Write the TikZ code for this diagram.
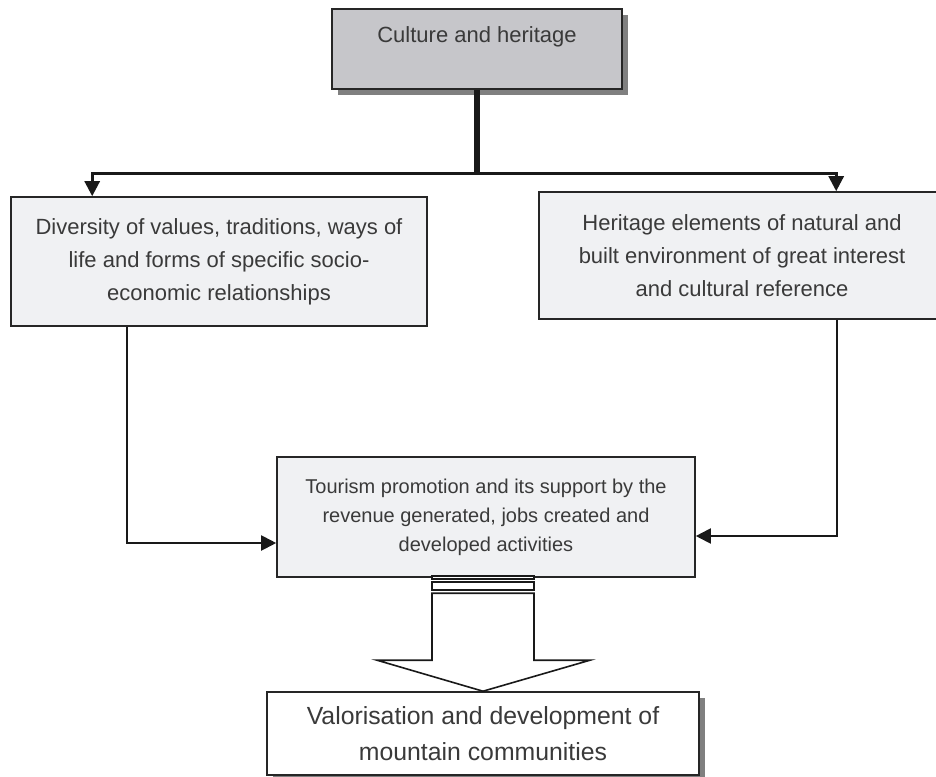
\documentclass[tikz,border=0pt]{standalone}
\usepackage{fontspec}
\setmainfont{Liberation Sans}
\usepackage{xcolor}
\usetikzlibrary{arrows.meta,positioning,shadows,calc}
\definecolor{boxgrey}{HTML}{C6C6CA}
\definecolor{boxlight}{HTML}{F0F1F3}
\definecolor{inkgrey}{HTML}{3A3A3A}

\begin{document}
\begin{tikzpicture}[x=1pt, y=-1pt, font=\fontsize{22}{33}\selectfont,
  box/.style={draw=black!85, line width=1.6pt, fill=boxlight, text=inkgrey, align=center, inner sep=0pt},
  shade box/.style={box, drop shadow={shadow xshift=6pt, shadow yshift=-6pt, fill=black!50, opacity=1}},
  link/.style={-{Triangle[length=15pt,width=15pt]}, line width=2pt, black!90},
  hollow/.style={draw=black!90, line width=1.6pt, fill=white}]
	\useasboundingbox (0,0) rectangle (936,776);
	% boxes
	\node[shade box, fill=boxgrey, minimum width=290pt, minimum height=80pt, text height=16pt, text depth=28pt] (culture) at (477,49) {Culture and heritage};
	\node[box, minimum width=416pt, minimum height=129pt] (values) at (219,261.5) {Diversity of values, traditions, ways of\\ life and forms of specific socio-\\ economic relationships};
	\node[box, minimum width=406pt, minimum height=127pt] (heritage) at (742,255.5) {Heritage elements of natural and\\ built environment of great interest\\ and cultural reference};
	\node[box, font=\fontsize{20}{29}\selectfont, minimum width=418pt, minimum height=120pt] (tourism) at (486,517) {Tourism promotion and its support by the\\ revenue generated, jobs created and\\ developed activities};
	\node[shade box, fill=white, font=\fontsize{24.8}{36}\selectfont, minimum width=432pt, minimum height=83pt] (valor) at (483,733.5) {Valorisation and development of\\ mountain communities};
	% connectors
	\coordinate (fork) at ($(culture.south)+(0,84)$);
	\draw[line width=6.5pt, black!90] (culture.south) -- (fork);
	\draw[link, line width=2.8pt] (fork) -| ([xshift=82pt]values.north west);
	\draw[link, line width=2.8pt] (fork) -| ([xshift=298pt]heritage.north west);
	\draw[link] ([xshift=117pt]values.south west) |- ([yshift=-26pt]tourism.west);
	\draw[link] ([xshift=299pt]heritage.south west) |- ([yshift=-19pt]tourism.east);
	% big hollow arrow
	\draw[hollow] ($(valor.north)+(-51,-115)$) rectangle ($(valor.north)+(51,-112)$);
	\draw[hollow] ($(valor.north)+(-51,-109)$) rectangle ($(valor.north)+(51,-101)$);
	\draw[hollow] ($(valor.north)+(-51,-98)$) -- ++(0,67) -- ++(-55,0) -- (valor.north) -- ($(valor.north)+(107,-31)$) -- ++(-56,0) -- ++(0,-67) -- cycle;
\end{tikzpicture}
\end{document}
